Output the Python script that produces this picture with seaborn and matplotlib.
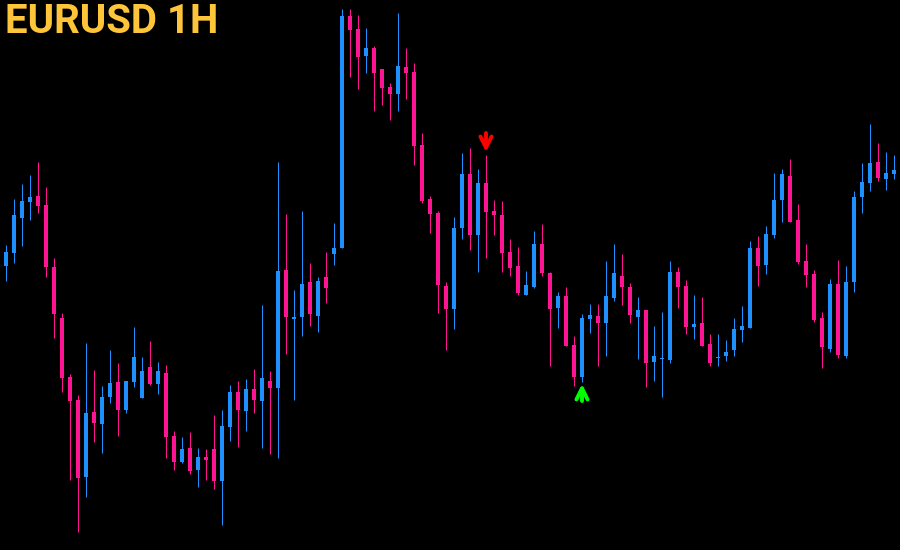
import numpy as np
import pandas as pd
import matplotlib
matplotlib.use("Agg")
import matplotlib.pyplot as plt
import seaborn as sns

# EURUSD 1H candles (chart units, larger = lower price)
open_ = [257, 266, 253, 218, 202, 196, 205, 267, 318, 377, 400, 477, 412, 424, 397, 382, 410, 382, 398, 367,
         384, 373, 436, 462, 448, 470, 457, 449, 481, 427, 392, 411, 389, 401, 381, 388, 270, 319, 317, 282,
         316, 277, 254, 248, 16, 29, 56, 48, 69, 87, 94, 67, 72, 145, 199, 213, 286, 309, 228, 174,
         235, 183, 211, 215, 252, 266, 295, 287, 244, 273, 308, 296, 345, 377, 319, 316, 323, 298, 276, 287,
         317, 310, 362, 359, 360, 272, 286, 327, 323, 344, 358, 356, 350, 330, 328, 248, 265, 235, 200, 176,
         220, 261, 274, 318, 349, 284, 356, 282, 197, 183, 162, 179, 174]
close = [265, 252, 215, 201, 197, 206, 267, 314, 378, 401, 478, 413, 423, 397, 383, 410, 381, 357, 371, 384,
         371, 437, 462, 449, 471, 457, 460, 481, 426, 392, 410, 389, 400, 378, 388, 271, 317, 317, 284, 314,
         281, 288, 248, 16, 30, 57, 48, 73, 88, 94, 66, 73, 146, 201, 214, 285, 309, 228, 174, 235,
         183, 212, 215, 253, 268, 293, 285, 244, 273, 309, 296, 346, 377, 318, 315, 323, 296, 273, 287, 315,
         310, 363, 356, 358, 272, 287, 327, 324, 346, 363, 357, 352, 329, 326, 248, 266, 234, 200, 174, 222,
         262, 275, 320, 347, 284, 355, 282, 197, 182, 163, 178, 173, 170]
high = [255, 245, 199, 184, 175, 162, 187, 258, 313, 374, 395, 343, 370, 386, 350, 363, 381, 327, 357, 341,
        362, 365, 431, 437, 432, 448, 449, 415, 410, 385, 381, 379, 369, 305, 371, 162, 214, 290, 211, 263,
        277, 252, 223, 9, 9, 15, 28, 46, 69, 83, 13, 48, 63, 133, 196, 211, 282, 217, 153, 148,
        169, 155, 200, 201, 239, 247, 271, 231, 224, 272, 292, 287, 336, 314, 304, 304, 261, 244, 254, 283,
        297, 310, 326, 312, 261, 267, 280, 295, 297, 334, 334, 340, 318, 306, 241, 236, 226, 173, 169, 159,
        204, 244, 270, 312, 279, 260, 266, 191, 163, 124, 143, 152, 155]
low = [268, 281, 263, 246, 220, 213, 277, 338, 392, 480, 532, 497, 442, 453, 403, 436, 413, 387, 398, 385,
       394, 458, 470, 463, 474, 487, 480, 489, 525, 441, 447, 431, 413, 448, 454, 458, 354, 400, 336, 326,
       332, 303, 265, 248, 77, 89, 73, 111, 105, 120, 111, 99, 165, 203, 233, 313, 350, 329, 239, 250,
       272, 258, 235, 272, 276, 295, 295, 288, 276, 366, 328, 346, 386, 382, 333, 366, 356, 301, 305, 323,
       359, 387, 381, 397, 363, 308, 334, 339, 346, 366, 366, 361, 356, 342, 328, 286, 274, 238, 222, 222,
       264, 287, 322, 368, 352, 358, 358, 292, 213, 191, 181, 190, 179]

# signal candles
sell_signals = [61]
buy_signals = [73]

df = pd.DataFrame({'Open': open_, 'High': high, 'Low': low, 'Close': close})
df['Bar'] = np.arange(len(df))
df['Bull'] = df['Close'] < df['Open']

bull_color = '#1E90FF'
bear_color = '#FF1493'

sns.set_theme(style="dark", rc={'axes.facecolor': 'black', 'figure.facecolor': 'black'})

fig = plt.figure(figsize=(9, 5.5), dpi=100)
ax = fig.add_axes([0, 0, 1, 1])
colors = np.where(df['Bull'], bull_color, bear_color)

# wicks
ax.vlines(df['Bar'], df['High'], df['Low'], colors=colors, linewidth=0.75)

# bodies
body_bottom = df[['Open', 'Close']].min(axis=1)
body_height = (df['Open'] - df['Close']).abs().clip(lower=1)
ax.bar(df['Bar'], body_height, bottom=body_bottom, width=0.62, color=colors, linewidth=0)

# sell / buy arrows
arrow_style = dict(arrowstyle='->', lw=2.8, mutation_scale=20, shrinkA=0, shrinkB=0)
for i in sell_signals:
    ax.annotate('', xy=(i, df['High'][i] - 3), xytext=(i, df['High'][i] - 22),
                arrowprops=dict(color='#FF0000', **arrow_style))
for i in buy_signals:
    ax.annotate('', xy=(i, df['Low'][i] + 2), xytext=(i, df['Low'][i] + 19),
                arrowprops=dict(color='#00FF00', **arrow_style))

ax.set_xlim(0.25, 112.75)
ax.set_ylim(550, 0)
ax.axis('off')

fig.text(0.006, 0.995, 'EURUSD 1H', color='#FFC53A', fontsize=29, fontweight='bold',
         ha='left', va='top', family=['Roboto', 'DejaVu Sans'])

fig.savefig('out.png', dpi=100, facecolor='black')
